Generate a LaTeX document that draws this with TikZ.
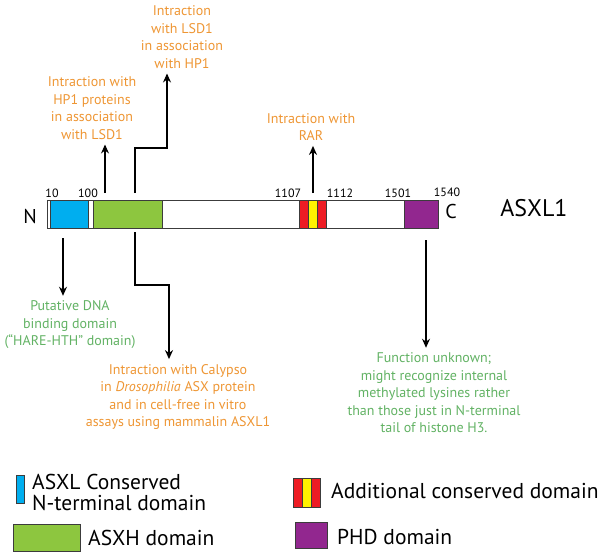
\documentclass[tikz,border=0pt]{standalone}
\usepackage{fontspec}
\setmainfont{PT Sans}
\usetikzlibrary{arrows.meta}
\definecolor{asxlblue}{RGB}{0,174,239}
\definecolor{asxhgreen}{RGB}{141,198,63}
\definecolor{acdred}{RGB}{237,28,36}
\definecolor{acdyellow}{RGB}{255,242,0}
\definecolor{phdpurple}{RGB}{146,39,143}
\definecolor{noteorange}{RGB}{238,150,52}
\definecolor{notegreen}{RGB}{98,178,100}
\definecolor{bargray}{RGB}{60,60,60}

\begin{document}
\begin{tikzpicture}[x=1pt, y=-1pt,
  dom/.style={draw=bargray, line width=0.8pt, minimum height=28pt, inner sep=0pt, anchor=north west},
  legbox/.style={draw=bargray, line width=0.8pt, inner sep=0pt},
  note/.style={align=center, inner sep=1pt, font=\fontsize{14}{17.5}\selectfont},
  resnum/.style={font=\fontsize{12}{13}\selectfont, inner sep=0pt},
  legtext/.style={anchor=west, align=left, inner sep=0pt, font=\fontsize{21.5}{21}\selectfont},
  arr/.style={line width=1.2pt, -{Stealth[length=9pt,width=8pt]}}]
\useasboundingbox (0,0) rectangle (602,557);

% protein bar
\node[dom, fill=white, minimum width=391pt] (protein) at (47,200) {};
\node[dom, fill=asxlblue, minimum width=38pt] (asxl) at (50,200) {};
\node[dom, fill=asxhgreen, minimum width=69pt] (asxh) at (93,200) {};
\node[dom, fill=acdred, minimum width=9pt] (acdl) at (299,200) {};
\node[dom, fill=acdyellow, minimum width=9pt] (acdm) at (308,200) {};
\node[dom, fill=acdred, minimum width=9pt] (acdr) at (317,200) {};
\node[dom, fill=phdpurple, minimum width=34pt] (phd) at (404,200) {};

\node[font=\fontsize{20}{20}\selectfont, inner sep=0pt] (nterm) at (30,216) {N};
\node[font=\fontsize{20}{20}\selectfont, inner sep=0pt] (cterm) at (451,211) {C};
\node[font=\fontsize{24}{24}\selectfont, inner sep=0pt] (name) at (534,208) {ASXL1};

% residue numbers
\node[resnum] (p10) at (52,193) {10};
\node[resnum] (p100) at (88,193) {100};
\node[resnum] (p1107) at (288,193) {1107};
\node[resnum] (p1112) at (340,193) {1112};
\node[resnum] (p1501) at (398,193) {1501};
\node[resnum] (p1540) at (447,192) {1540};

% notes above
\node[note, text=noteorange] (lsdone) at (182,37) {Intraction\\with LSD1\\in association\\with HP1};
\node[note, text=noteorange] (hpone) at (92,108) {Intraction with\\HP1 proteins\\in association\\with LSD1};
\node[note, text=noteorange] (rar) at (311,127) {Intraction with\\RAR};

% notes below
\node[note, text=notegreen] (dna) at (70,325) {Putative DNA\\binding domain\\(``HARE-HTH'' domain)};
\node[note, text=noteorange] (calypso) at (178,397) {Intraction with Calypso\\in \textit{Drosophilia} ASX protein\\and in cell-free in vitro\\assays using mammalin ASXL1};
\node[note, text=notegreen] (func) at (434,393) {Function unknown;\\might recognize internal\\methylated lysines rather\\than those just in N-terminal\\tail of histone H3.};

% arrows
\coordinate (hpfoot) at (105,193);
\coordinate (lsdfoot) at (135,193);
\coordinate (lsdbend) at (167,148);
\coordinate (rarfoot) at (313,193);
\coordinate (dnafoot) at (63,238);
\coordinate (calfoot) at (135,232);
\coordinate (calbend) at (169,285);
\coordinate (funcfoot) at (426,240);

\draw[arr, shorten >=4pt] (hpfoot) -- (hpfoot |- hpone.south);
\draw[arr, shorten >=4pt] (lsdfoot) |- (lsdbend) -- (lsdbend |- lsdone.south);
\draw[arr, shorten >=4pt] (rarfoot) -- (rarfoot |- rar.south);
\draw[arr, shorten >=4pt] (dnafoot) -- (dnafoot |- dna.north);
\draw[arr, shorten >=4pt] (calfoot) |- (calbend) -- (calbend |- calypso.north);
\draw[arr, shorten >=4pt] (funcfoot) -- (funcfoot |- func.north);

% legend
\node[legbox, fill=asxlblue, minimum width=8pt, minimum height=28pt] (keyasxl) at (20,489) {};
\node[legtext] (keyasxltxt) at (32,492) {ASXL Conserved\\N-terminal domain};
\node[legbox, fill=asxhgreen, minimum width=67pt, minimum height=27pt] (keyasxh) at (46.5,537.5) {};
\node[legtext] (keyasxhtxt) at (88,538) {ASXH domain};
\node[legbox, fill=acdred, minimum width=9pt, minimum height=29pt] (keyacdl) at (297.5,492.5) {};
\node[legbox, fill=acdyellow, minimum width=9pt, minimum height=29pt] (keyacdm) at (306.5,492.5) {};
\node[legbox, fill=acdred, minimum width=9pt, minimum height=29pt] (keyacdr) at (315.5,492.5) {};
\node[legtext] (keyacdtxt) at (331,491) {Additional conserved domain};
\node[legbox, fill=phdpurple, minimum width=32pt, minimum height=26pt] (keyphd) at (311,535) {};
\node[legtext] (keyphdtxt) at (337,537) {PHD domain};
\end{tikzpicture}
\end{document}
